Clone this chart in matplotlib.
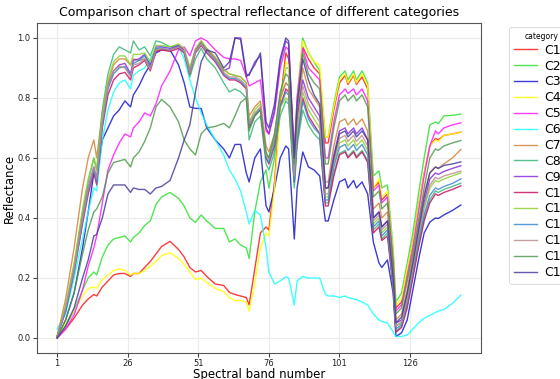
import matplotlib
matplotlib.use("Agg")
import matplotlib.pyplot as plt

bands = [1, 4, 7, 10, 12, 14, 15, 17, 19, 21,
         23, 25, 27, 28, 30, 32, 34, 36, 38, 41,
         44, 46, 48, 50, 52, 54, 57, 60, 62, 64,
         66, 68, 69, 71, 73, 75, 76, 78, 80, 82,
         83, 85, 86, 88, 90, 92, 94, 96, 97, 99,
         101, 103, 104, 106, 107, 109, 111, 113, 115, 116,
         118, 120, 121, 123, 125, 127, 129, 131, 133, 135,
         136, 138, 141, 144]

C1 = [0.0, 0.03, 0.066, 0.11, 0.13, 0.145, 0.14, 0.17, 0.19, 0.21,
      0.215, 0.215, 0.205, 0.215, 0.215, 0.235, 0.255, 0.28, 0.305, 0.322,
      0.295, 0.27, 0.235, 0.22, 0.225, 0.205, 0.18, 0.175, 0.152, 0.145,
      0.14, 0.135, 0.11, 0.23, 0.35, 0.37, 0.36, 0.52, 0.78, 0.95,
      0.93, 0.6, 0.78, 0.97, 0.93, 0.9, 0.88, 0.65, 0.65, 0.76,
      0.85, 0.875, 0.845, 0.875, 0.845, 0.87, 0.83, 0.5, 0.52, 0.46,
      0.48, 0.27, 0.1, 0.12, 0.22, 0.32, 0.44, 0.55, 0.64, 0.665,
      0.66, 0.675, 0.68, 0.686]
C2 = [0.0, 0.04, 0.09, 0.16, 0.2, 0.22, 0.21, 0.27, 0.31, 0.33,
      0.335, 0.34, 0.32, 0.335, 0.35, 0.375, 0.39, 0.445, 0.47, 0.485,
      0.465, 0.44, 0.4, 0.385, 0.41, 0.39, 0.365, 0.365, 0.32, 0.33,
      0.31, 0.3, 0.265, 0.42, 0.52, 0.56, 0.5, 0.6, 0.8, 0.9,
      0.9, 0.6, 0.8, 1.0, 0.95, 0.92, 0.89, 0.67, 0.67, 0.78,
      0.87, 0.89, 0.86, 0.89, 0.86, 0.89, 0.85, 0.54, 0.557, 0.5,
      0.51, 0.3, 0.12, 0.15, 0.25, 0.35, 0.48, 0.6, 0.71, 0.72,
      0.714, 0.74, 0.742, 0.746]
C3 = [0.0, 0.06, 0.15, 0.3, 0.42, 0.55, 0.53, 0.66, 0.7, 0.74,
      0.76, 0.79, 0.77, 0.81, 0.84, 0.88, 0.91, 0.95, 0.96, 0.96,
      0.91, 0.85, 0.77, 0.765, 0.765, 0.7, 0.66, 0.63, 0.6, 0.645,
      0.645, 0.55, 0.52, 0.6, 0.63, 0.44, 0.42, 0.5, 0.6, 0.64,
      0.63, 0.33, 0.5, 0.62, 0.57, 0.56, 0.54, 0.39, 0.39, 0.46,
      0.52, 0.53, 0.5, 0.525, 0.5, 0.52, 0.48, 0.32, 0.25, 0.235,
      0.26, 0.15, 0.005, 0.017, 0.06, 0.16, 0.26, 0.35, 0.386, 0.4,
      0.398, 0.41, 0.425, 0.443]
C4 = [0.0, 0.05, 0.09, 0.14, 0.165, 0.17, 0.165, 0.195, 0.21, 0.225,
      0.23, 0.225, 0.21, 0.215, 0.215, 0.225, 0.24, 0.255, 0.275, 0.284,
      0.265, 0.245, 0.22, 0.195, 0.2, 0.185, 0.165, 0.155, 0.135, 0.125,
      0.125, 0.12, 0.09, 0.18, 0.3, 0.35, 0.34, 0.5, 0.75, 0.92,
      0.91, 0.6, 0.8, 0.99, 0.95, 0.92, 0.91, 0.67, 0.67, 0.77,
      0.86, 0.88, 0.85, 0.88, 0.85, 0.88, 0.84, 0.5, 0.53, 0.47,
      0.49, 0.28, 0.11, 0.13, 0.23, 0.32, 0.44, 0.55, 0.64, 0.66,
      0.655, 0.675, 0.68, 0.685]
C5 = [0.0, 0.03, 0.077, 0.16, 0.24, 0.3, 0.34, 0.45, 0.56, 0.61,
      0.65, 0.68, 0.67, 0.7, 0.72, 0.75, 0.74, 0.78, 0.84, 0.89,
      0.96, 0.97, 0.94, 0.99, 1.0, 0.99, 0.96, 0.935, 0.93, 0.93,
      0.925, 0.87, 0.84, 0.85, 0.86, 0.69, 0.68, 0.75, 0.9, 0.97,
      0.96, 0.62, 0.8, 0.965, 0.9, 0.88, 0.86, 0.6, 0.6, 0.72,
      0.81, 0.83, 0.815, 0.83, 0.81, 0.83, 0.79, 0.49, 0.51, 0.45,
      0.47, 0.26, 0.09, 0.11, 0.2, 0.3, 0.42, 0.54, 0.64, 0.69,
      0.68, 0.7, 0.71, 0.717]
C6 = [0.03, 0.08, 0.2, 0.33, 0.42, 0.5, 0.49, 0.66, 0.76, 0.82,
      0.85, 0.86, 0.83, 0.875, 0.89, 0.9, 0.93, 0.96, 0.97, 0.97,
      0.97, 0.93, 0.86, 0.8, 0.75, 0.71, 0.66, 0.61, 0.56, 0.53,
      0.49, 0.42, 0.38, 0.425, 0.41, 0.3, 0.22, 0.18, 0.19, 0.204,
      0.2, 0.11, 0.19, 0.205, 0.2, 0.2, 0.2, 0.145, 0.14, 0.14,
      0.135, 0.14, 0.135, 0.13, 0.128, 0.12, 0.11, 0.08, 0.06, 0.055,
      0.05, 0.02, 0.005, 0.005, 0.01, 0.03, 0.05, 0.066, 0.075, 0.085,
      0.09, 0.095, 0.115, 0.143]
C7 = [0.005, 0.13, 0.3, 0.5, 0.6, 0.66, 0.6, 0.75, 0.85, 0.91,
      0.93, 0.93, 0.91, 0.93, 0.925, 0.93, 0.9, 0.96, 0.96, 0.96,
      0.97, 0.955, 0.89, 0.96, 0.99, 0.965, 0.935, 0.895, 0.88, 0.875,
      0.87, 0.85, 0.74, 0.77, 0.79, 0.64, 0.62, 0.68, 0.8, 0.85,
      0.84, 0.56, 0.72, 0.9, 0.83, 0.8, 0.77, 0.52, 0.52, 0.64,
      0.72, 0.73, 0.71, 0.73, 0.71, 0.73, 0.69, 0.43, 0.45, 0.4,
      0.42, 0.22, 0.06, 0.08, 0.16, 0.27, 0.38, 0.48, 0.55, 0.57,
      0.565, 0.58, 0.6, 0.628]
C8 = [0.005, 0.1, 0.24, 0.42, 0.52, 0.6, 0.56, 0.76, 0.88, 0.945,
      0.97, 0.96, 0.95, 0.99, 0.96, 0.97, 0.94, 0.99, 0.985, 0.97,
      0.975, 0.95, 0.87, 0.93, 0.965, 0.93, 0.9, 0.85, 0.82, 0.83,
      0.82, 0.8, 0.66, 0.72, 0.74, 0.58, 0.56, 0.62, 0.74, 0.79,
      0.78, 0.5, 0.64, 0.76, 0.71, 0.68, 0.66, 0.45, 0.45, 0.55,
      0.615, 0.625, 0.605, 0.625, 0.605, 0.625, 0.59, 0.36, 0.38, 0.33,
      0.35, 0.17, 0.02, 0.04, 0.11, 0.21, 0.31, 0.4, 0.46, 0.49,
      0.485, 0.495, 0.505, 0.516]
C9 = [0.005, 0.1, 0.23, 0.4, 0.5, 0.57, 0.53, 0.72, 0.84, 0.89,
      0.91, 0.915, 0.88, 0.925, 0.93, 0.945, 0.91, 0.97, 0.97, 0.965,
      0.975, 0.96, 0.895, 0.96, 0.985, 0.96, 0.93, 0.89, 0.9, 1.0,
      1.0, 0.88, 0.875, 0.92, 0.94, 0.7, 0.68, 0.76, 0.92, 0.99,
      0.98, 0.58, 0.74, 0.86, 0.8, 0.77, 0.74, 0.5, 0.5, 0.61,
      0.69, 0.7, 0.68, 0.7, 0.68, 0.7, 0.66, 0.4, 0.42, 0.37,
      0.39, 0.2, 0.05, 0.06, 0.14, 0.24, 0.35, 0.45, 0.53, 0.55,
      0.545, 0.555, 0.565, 0.574]
C10 = [0.005, 0.09, 0.22, 0.38, 0.48, 0.55, 0.51, 0.7, 0.81, 0.86,
       0.88, 0.885, 0.86, 0.9, 0.91, 0.925, 0.89, 0.955, 0.96, 0.955,
       0.965, 0.95, 0.88, 0.95, 0.975, 0.95, 0.92, 0.875, 0.86, 0.86,
       0.85, 0.83, 0.7, 0.74, 0.76, 0.6, 0.58, 0.64, 0.77, 0.83,
       0.82, 0.52, 0.66, 0.8, 0.74, 0.71, 0.68, 0.44, 0.44, 0.54,
       0.61, 0.62, 0.6, 0.62, 0.6, 0.62, 0.585, 0.35, 0.37, 0.325,
       0.34, 0.17, 0.02, 0.035, 0.1, 0.2, 0.3, 0.39, 0.45, 0.48,
       0.475, 0.485, 0.495, 0.507]
C11 = [0.005, 0.11, 0.25, 0.43, 0.53, 0.6, 0.56, 0.74, 0.86, 0.92,
       0.94, 0.94, 0.91, 0.945, 0.945, 0.95, 0.92, 0.975, 0.975, 0.97,
       0.98, 0.965, 0.9, 0.965, 0.99, 0.965, 0.935, 0.895, 0.88, 0.875,
       0.87, 0.85, 0.72, 0.76, 0.78, 0.61, 0.6, 0.66, 0.77, 0.8,
       0.79, 0.53, 0.68, 0.82, 0.76, 0.73, 0.7, 0.47, 0.47, 0.58,
       0.65, 0.66, 0.64, 0.66, 0.64, 0.66, 0.625, 0.38, 0.4, 0.35,
       0.37, 0.19, 0.04, 0.05, 0.13, 0.23, 0.33, 0.43, 0.5, 0.525,
       0.52, 0.53, 0.54, 0.55]
C12 = [0.005, 0.09, 0.22, 0.39, 0.49, 0.56, 0.52, 0.71, 0.83, 0.88,
       0.9, 0.905, 0.875, 0.915, 0.925, 0.94, 0.905, 0.965, 0.965, 0.96,
       0.97, 0.955, 0.885, 0.955, 0.98, 0.955, 0.925, 0.88, 0.865, 0.865,
       0.855, 0.835, 0.71, 0.745, 0.765, 0.6, 0.585, 0.65, 0.77, 0.82,
       0.81, 0.52, 0.66, 0.79, 0.73, 0.7, 0.68, 0.46, 0.46, 0.57,
       0.635, 0.645, 0.625, 0.645, 0.625, 0.645, 0.61, 0.37, 0.39, 0.34,
       0.36, 0.18, 0.03, 0.045, 0.12, 0.22, 0.32, 0.41, 0.475, 0.5,
       0.495, 0.505, 0.515, 0.53]
C13 = [0.005, 0.1, 0.23, 0.4, 0.5, 0.57, 0.53, 0.72, 0.84, 0.89,
       0.905, 0.9, 0.87, 0.91, 0.915, 0.93, 0.895, 0.96, 0.965, 0.96,
       0.97, 0.955, 0.885, 0.955, 0.98, 0.955, 0.93, 0.885, 0.87, 0.87,
       0.86, 0.84, 0.715, 0.75, 0.77, 0.61, 0.595, 0.67, 0.8, 0.85,
       0.84, 0.54, 0.7, 0.84, 0.78, 0.75, 0.72, 0.48, 0.48, 0.59,
       0.665, 0.675, 0.655, 0.675, 0.655, 0.675, 0.64, 0.39, 0.41, 0.36,
       0.38, 0.19, 0.04, 0.055, 0.13, 0.235, 0.34, 0.44, 0.51, 0.535,
       0.53, 0.54, 0.548, 0.556]
C14 = [0.0, 0.06, 0.15, 0.28, 0.36, 0.42, 0.43, 0.47, 0.55, 0.585,
       0.59, 0.595, 0.57, 0.6, 0.62, 0.655, 0.7, 0.77, 0.795, 0.77,
       0.72, 0.66, 0.63, 0.61, 0.68, 0.7, 0.705, 0.715, 0.7, 0.74,
       0.785, 0.8, 0.69, 0.74, 0.76, 0.62, 0.6, 0.68, 0.82, 0.88,
       0.87, 0.58, 0.75, 0.95, 0.88, 0.85, 0.83, 0.58, 0.58, 0.7,
       0.79, 0.81, 0.79, 0.81, 0.79, 0.81, 0.77, 0.47, 0.49, 0.43,
       0.45, 0.25, 0.08, 0.1, 0.19, 0.28, 0.39, 0.5, 0.6, 0.63,
       0.625, 0.64, 0.65, 0.658]
C15 = [0.0, 0.04, 0.1, 0.2, 0.26, 0.34, 0.345, 0.4, 0.48, 0.51,
       0.51, 0.51, 0.485, 0.5, 0.495, 0.495, 0.48, 0.5, 0.505, 0.525,
       0.6, 0.66, 0.71, 0.82, 0.92, 0.96, 0.95, 0.9, 0.92, 1.0,
       0.995, 0.87, 0.88, 0.91, 0.95, 0.72, 0.7, 0.78, 0.93, 1.0,
       0.99, 0.6, 0.78, 0.93, 0.86, 0.81, 0.78, 0.5, 0.5, 0.6,
       0.68, 0.69, 0.67, 0.69, 0.67, 0.69, 0.66, 0.4, 0.42, 0.37,
       0.39, 0.2, 0.05, 0.07, 0.15, 0.25, 0.36, 0.47, 0.55, 0.57,
       0.565, 0.575, 0.58, 0.587]

labels = ["C1", "C2", "C3", "C4", "C5", "C6", "C7", "C8", "C9", "C10",
          "C11", "C12", "C13", "C14", "C15"]
series = [C1, C2, C3, C4, C5, C6, C7, C8, C9, C10, C11, C12, C13, C14, C15]
colors = ["#ff1a1a", "#33e033", "#1a1acc", "#ffff00", "#ff1aff", "#1affff",
          "#d2843c", "#3cb878", "#8a2be2", "#cc1166", "#90d030", "#3a88d0",
          "#bc8f8f", "#4f9a4f", "#483d9b"]
xticks = [1, 26, 51, 76, 101, 126]

fig = plt.figure(figsize=(5.6, 3.79), dpi=100)
ax = fig.add_axes([0.066, 0.0686, 0.793, 0.871])
for lab, ys, c in zip(labels, series, colors):
    ax.plot(bands, ys, color=c, lw=1.0, alpha=0.85, label=lab)

ax.set_xticks(xticks)
ax.set_yticks([0.0, 0.2, 0.4, 0.6, 0.8, 1.0])
ax.tick_params(labelsize=6, length=3, pad=1.5, color="#444444", labelcolor="#222222")
ax.grid(True, color="#ebebeb", lw=0.8)
ax.set_axisbelow(True)
for s in ax.spines.values():
    s.set_color("#555555")
    s.set_linewidth(0.8)
ax.set_title("Comparison chart of spectral reflectance of different categories",
             fontsize=9, pad=5)
ax.set_xlabel("Spectral band number", fontsize=8.5)
ax.set_ylabel("Reflectance", fontsize=8.5)
ax.xaxis.set_label_coords(0.5, -0.044)
ax.yaxis.set_label_coords(-0.047, 0.5)

leg = ax.legend(title="category", loc="upper left", bbox_to_anchor=(1.063, 0.988),
                borderaxespad=0, fontsize=9, title_fontsize=5.5,
                handlelength=1.8, handletextpad=0.6, labelspacing=0.23,
                frameon=True, fancybox=True)
leg.get_frame().set_edgecolor("#cccccc")
leg.get_frame().set_linewidth(0.6)

fig.savefig("out.png", dpi=100)
